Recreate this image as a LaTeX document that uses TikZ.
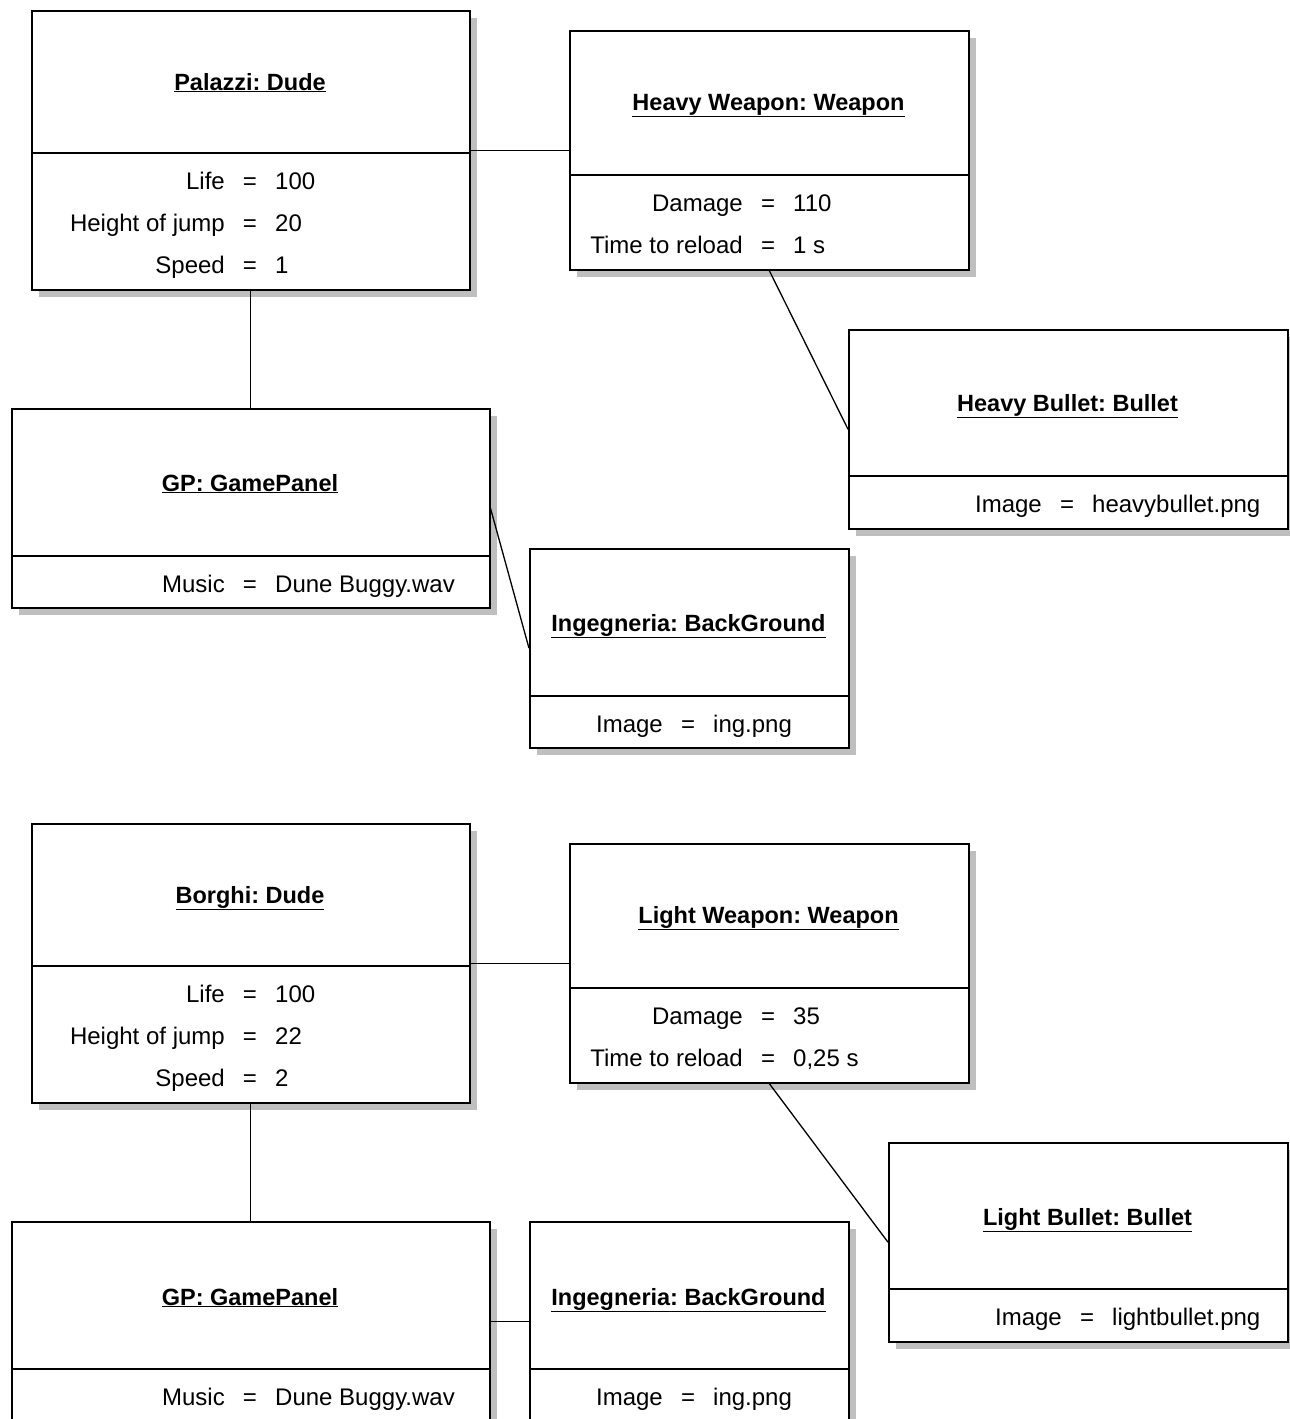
\documentclass[tikz,border=0pt]{standalone}
\usepackage{fontspec}
\setmainfont{Liberation Sans}
\usetikzlibrary{shadows}
\frenchspacing

\tikzset{
  objbox/.style={draw, line width=1.5pt, fill=white, anchor=north west, inner sep=0pt,
    drop shadow={shadow xshift=7pt, shadow yshift=-7pt, fill=black!25, opacity=1}},
  divider/.style={line width=1.5pt},
  link/.style={line width=1.3pt},
  lbl/.style={inner sep=0pt, font=\fontsize{24}{28}\selectfont},
  ttl/.style={lbl, anchor=base, font=\fontsize{23.5}{28}\selectfont\bfseries},
}

% one attribute row: prefix, x of "=", baseline y, name, value
\newcommand{\attrrow}[5]{%
  \node[lbl, anchor=base east] (#1-k) at (#2-25,#3) {#4};
  \node[lbl, anchor=base] (#1-e) at (#2,#3) {=};
  \node[lbl, anchor=base west] (#1-v) at (#2+25,#3) {#5};
}
\newcommand{\uttl}[1]{\underline{#1}}

\begin{document}
\begin{tikzpicture}[x=1pt, y=-1pt]
\useasboundingbox (0,0) rectangle (1290,1419);
\clip (0,0) rectangle (1290,1419);

% ---------- first scenario ----------
\node[objbox, minimum width=438, minimum height=279] (dudeA) at (31,10) {};
\node[objbox, minimum width=399, minimum height=239] (weapA) at (569,30) {};
\node[objbox, minimum width=439, minimum height=199] (bulletA) at (848,329) {};
\node[objbox, minimum width=478, minimum height=199] (gpA) at (11,408) {};
\node[objbox, minimum width=319, minimum height=199] (bgA) at (529,548) {};

\draw[divider] (dudeA.west |- 0,153) -- (dudeA.east |- 0,153);
\draw[divider] (weapA.west |- 0,175) -- (weapA.east |- 0,175);
\draw[divider] (bulletA.west |- 0,476) -- (bulletA.east |- 0,476);
\draw[divider] (gpA.west |- 0,556) -- (gpA.east |- 0,556);
\draw[divider] (bgA.west |- 0,696) -- (bgA.east |- 0,696);

\node[ttl] (dudeA-t) at (250,90) {\uttl{Palazzi: Dude}};
\attrrow{dudeA-life}{250}{189}{Life}{100}
\attrrow{dudeA-jump}{250}{231}{Height of jump}{20}
\attrrow{dudeA-speed}{250}{273}{Speed}{1}

\node[ttl] (weapA-t) at (768.5,110) {\uttl{Heavy Weapon: Weapon}};
\attrrow{weapA-dmg}{768}{211}{Damage}{110}
\attrrow{weapA-rel}{768}{253}{Time to reload}{1 s}

\node[ttl] (bulletA-t) at (1067.5,411) {\uttl{Heavy Bullet: Bullet}};
\attrrow{bulletA-img}{1067}{512}{Image}{heavybullet.png}

\node[ttl] (gpA-t) at (250,491) {\uttl{GP: GamePanel}};
\attrrow{gpA-mus}{250}{592}{Music}{Dune Buggy.wav}

\node[ttl] (bgA-t) at (688.5,631) {\uttl{Ingegneria: BackGround}};
\attrrow{bgA-img}{688}{732}{Image}{ing.png}

\draw[link] (dudeA.east) -- (weapA.west);
\draw[link] (dudeA.south) -- (gpA.north);
\draw[link] (weapA.south) -- (bulletA.west);
\draw[link] (gpA.east) -- (bgA.west);

% ---------- second scenario ----------
\node[objbox, minimum width=438, minimum height=279] (dudeB) at (31,823) {};
\node[objbox, minimum width=399, minimum height=239] (weapB) at (569,843) {};
\node[objbox, minimum width=399, minimum height=199] (bulletB) at (888,1142) {};
\node[objbox, minimum width=478, minimum height=199] (gpB) at (11,1221) {};
\node[objbox, minimum width=319, minimum height=199] (bgB) at (529,1221) {};

\draw[divider] (dudeB.west |- 0,966) -- (dudeB.east |- 0,966);
\draw[divider] (weapB.west |- 0,988) -- (weapB.east |- 0,988);
\draw[divider] (bulletB.west |- 0,1289) -- (bulletB.east |- 0,1289);
\draw[divider] (gpB.west |- 0,1369) -- (gpB.east |- 0,1369);
\draw[divider] (bgB.west |- 0,1369) -- (bgB.east |- 0,1369);

\node[ttl] (dudeB-t) at (250,903) {\uttl{Borghi: Dude}};
\attrrow{dudeB-life}{250}{1002}{Life}{100}
\attrrow{dudeB-jump}{250}{1044}{Height of jump}{22}
\attrrow{dudeB-speed}{250}{1086}{Speed}{2}

\node[ttl] (weapB-t) at (768.5,923) {\uttl{Light Weapon: Weapon}};
\attrrow{weapB-dmg}{768}{1024}{Damage}{35}
\attrrow{weapB-rel}{768}{1066}{Time to reload}{0,25 s}

\node[ttl] (bulletB-t) at (1087.5,1225) {\uttl{Light Bullet: Bullet}};
\attrrow{bulletB-img}{1087}{1325}{Image}{lightbullet.png}

\node[ttl] (gpB-t) at (250,1305) {\uttl{GP: GamePanel}};
\attrrow{gpB-mus}{250}{1405}{Music}{Dune Buggy.wav}

\node[ttl] (bgB-t) at (688.5,1305) {\uttl{Ingegneria: BackGround}};
\attrrow{bgB-img}{688}{1405}{Image}{ing.png}

\draw[link] (dudeB.east) -- (weapB.west);
\draw[link] (dudeB.south) -- (gpB.north);
\draw[link] (weapB.south) -- (bulletB.west);
\draw[link] (gpB.east) -- (bgB.west);
\end{tikzpicture}
\end{document}
